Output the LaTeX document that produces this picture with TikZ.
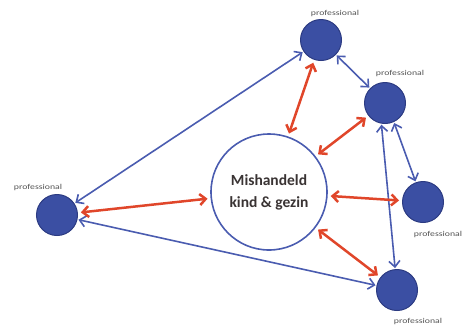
\documentclass[tikz,border=0pt]{standalone}
\usepackage{fontspec}
\setmainfont{Carlito}
\usetikzlibrary{arrows.meta}
\definecolor{nodeblue}{HTML}{3B4FA3}
\definecolor{nodeedge}{HTML}{2C3B82}
\definecolor{lineblue}{HTML}{4A5CB0}
\definecolor{linered}{HTML}{E0462A}
\definecolor{textgray}{HTML}{3A3434}
\definecolor{labelgray}{HTML}{555555}
\tikzset{
  prof/.style={circle, fill=nodeblue, draw=nodeedge, line width=1pt, minimum size=41pt, inner sep=0pt},
  hub/.style={circle, fill=white, draw=lineblue, line width=1.6pt, minimum size=116pt, inner sep=0pt, align=center, font=\fontsize{15.5}{22}\selectfont\bfseries, text=textgray},
  plabel/.style={font=\fontsize{7.5}{8}\selectfont, text=labelgray, xscale=1.3, inner sep=0pt},
  blink/.style={draw=lineblue, line width=1.6pt, {Straight Barb[length=6pt,width=11pt,line width=1.6pt]}-{Straight Barb[length=6pt,width=11pt,line width=1.6pt]}, shorten <=1pt, shorten >=1pt},
  rlink/.style={draw=linered, line width=2.5pt, {Straight Barb[length=6pt,width=11pt,line width=2.5pt]}-{Straight Barb[length=6pt,width=11pt,line width=2.5pt]}, shorten <=3pt, shorten >=3pt}
}
\begin{document}
\begin{tikzpicture}[x=1pt,y=-1pt]
\useasboundingbox (0,0) rectangle (465,325);
\node[hub] (hub) at (269,192) {Mishandeld\\kind \& gezin};
\node[prof] (top) at (321,40) {};
\node[prof] (ur) at (385,103) {};
\node[prof] (right) at (423,202) {};
\node[prof] (bot) at (397,290) {};
\node[prof] (left) at (57,215) {};
\node[plabel] (ltop) at (335,13) {professional};
\node[plabel] (lur) at (400,73) {professional};
\node[plabel] (lright) at (438,234) {professional};
\node[plabel] (lbot) at (418,321) {professional};
\node[plabel] (lleft) at (38,187) {professional};
% blue links
\draw[blink] (left) -- (top);
\draw[blink] (left) -- (bot);
\draw[blink] (top) -- (ur);
\draw[blink] (ur.260) -- (bot.95);
\draw[blink] (ur.295) -- (right.110);
% red links
\draw[rlink] (hub) -- (top);
\draw[rlink] (hub) -- (ur);
\draw[rlink] (hub) -- (right);
\draw[rlink] (hub) -- (bot);
\draw[rlink] (hub) -- (left);
\end{tikzpicture}
\end{document}
